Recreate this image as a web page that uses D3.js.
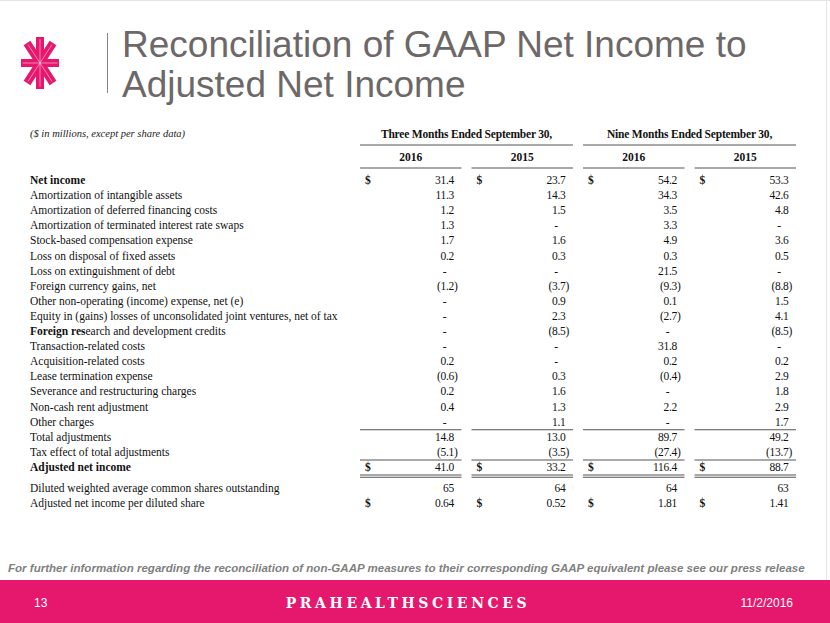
<!DOCTYPE html>
<html><head><meta charset="utf-8">
<script src="https://cdn.jsdelivr.net/npm/d3@7"></script>
<style>html,body{margin:0;padding:0;background:#fff;}svg{display:block;}</style>
</head><body>
<svg id="chart" width="830" height="623"></svg>
<script>
const titleLines = ["Reconciliation of GAAP Net Income to", "Adjusted Net Income"];
const unitNote = "($ in millions, except per share data)";
const groupHeaders = ["Three Months Ended September 30,", "Nine Months Ended September 30,"];
const columns = ["2016", "2015", "2016 ", "2015 "];
const yearLabels = ["2016", "2015", "2016", "2015"];
const labels = [
  "Net income",
  "Amortization of intangible assets",
  "Amortization of deferred financing costs",
  "Amortization of terminated interest rate swaps",
  "Stock-based compensation expense",
  "Loss on disposal of fixed assets",
  "Loss on extinguishment of debt",
  "Foreign currency gains, net",
  "Other non-operating (income) expense, net (e)",
  "Equity in (gains) losses of unconsolidated joint ventures, net of tax",
  "Foreign research and development credits",
  "Transaction-related costs",
  "Acquisition-related costs",
  "Lease termination expense",
  "Severance and restructuring charges",
  "Non-cash rent adjustment",
  "Other charges",
  "Total adjustments",
  "Tax effect of total adjustments",
  "Adjusted net income",
  "Diluted weighted average common shares outstanding",
  "Adjusted net income per diluted share"
];
const threeMonths2016 = [31.4, 11.3, 1.2, 1.3, 1.7, 0.2, null, -1.2, null, null, null, null, 0.2, -0.6, 0.2, 0.4, null, 14.8, -5.1, 41.0, 65, 0.64];
const threeMonths2015 = [23.7, 14.3, 1.5, null, 1.6, 0.3, null, -3.7, 0.9, 2.3, -8.5, null, null, 0.3, 1.6, 1.3, 1.1, 13.0, -3.5, 33.2, 64, 0.52];
const nineMonths2016 = [54.2, 34.3, 3.5, 3.3, 4.9, 0.3, 21.5, -9.3, 0.1, -2.7, null, 31.8, 0.2, -0.4, null, 2.2, null, 89.7, -27.4, 116.4, 64, 1.81];
const nineMonths2015 = [53.3, 42.6, 4.8, null, 3.6, 0.5, null, -8.8, 1.5, 4.1, -8.5, null, 0.2, 2.9, 1.8, 2.9, 1.7, 49.2, -13.7, 88.7, 63, 1.41];
const series = [threeMonths2016, threeMonths2015, nineMonths2016, nineMonths2015];
const dollarRows = [0, 19, 21];
const boldRows = [0, 19];
const footnote = "For further information regarding the reconciliation of non-GAAP measures to their corresponding GAAP equivalent please see our press release";
const pageNumber = "13";
const brand = "PRAHEALTHSCIENCES";
const dateText = "11/2/2016";

const svg = d3.select("#chart");
const pink = "#e5186e";
const serif = "'Liberation Serif','Times New Roman',serif";
const sans = "'Liberation Sans',Arial,sans-serif";

svg.append("rect").attr("x",0).attr("y",0).attr("width",830).attr("height",623).attr("fill","#fff");
svg.append("line").attr("x1",0).attr("x2",830).attr("y1",0.5).attr("y2",0.5).attr("stroke","#e6e6e6");
svg.append("line").attr("x1",826.5).attr("x2",826.5).attr("y1",0).attr("y2",580).attr("stroke","#e6e6e6");

// logo
const logo = svg.append("g").attr("transform","translate(40,63)");
const arms = [[0,26],[19,0],[13,-20],[-13,-20]];
arms.forEach(([dx,dy])=>{
  logo.append("line").attr("x1",-dx).attr("y1",-dy).attr("x2",dx).attr("y2",dy)
    .attr("stroke",pink).attr("stroke-width",8);
});
arms.forEach(([dx,dy])=>{
  logo.append("line").attr("x1",-dx*0.92).attr("y1",-dy*0.92).attr("x2",dx*0.92).attr("y2",dy*0.92)
    .attr("stroke","#fff").attr("stroke-opacity",0.6).attr("stroke-width",0.8);
});
svg.append("line").attr("x1",107.5).attr("x2",107.5).attr("y1",33).attr("y2",93).attr("stroke","#8a8585").attr("stroke-width",1);

// title
svg.selectAll("text.title").data(titleLines).join("text").attr("class","title")
  .attr("x",122).attr("y",(d,i)=>57+i*40)
  .attr("font-family",sans).attr("font-size",37).attr("fill","#6d6868").text(d=>d);

// table scales
const col = d3.scaleBand().domain(columns).range([360,796]).paddingInner(0.09);
const rowScale = d3.scaleLinear().domain([0,19]).range([180,467]);
const rowY = i => i<=19 ? rowScale(i) : 488 + (i-20)*15.2;
const lineColor = "#555";

svg.append("text").attr("x",30).attr("y",137).attr("font-family",serif).attr("font-style","italic")
  .attr("font-size",10.5).attr("fill","#222").text(unitNote);

groupHeaders.forEach((h,g)=>{
  const x0 = col(columns[g*2]), x1 = col(columns[g*2+1]) + col.bandwidth();
  svg.append("text").attr("x",(x0+x1)/2).attr("y",138).attr("text-anchor","middle")
    .attr("font-family",serif).attr("font-weight","bold").attr("font-size",11.5).attr("letter-spacing",-0.2).attr("fill","#111").text(h);
  svg.append("line").attr("x1",x0).attr("x2",x1).attr("y1",145).attr("y2",145).attr("stroke",lineColor).attr("stroke-width",1.2);
});
columns.forEach((c,j)=>{
  const x0 = col(c);
  svg.append("text").attr("x",x0+col.bandwidth()/2).attr("y",161).attr("text-anchor","middle")
    .attr("font-family",serif).attr("font-weight","bold").attr("font-size",11.5).attr("fill","#111").text(yearLabels[j]);
  svg.append("line").attr("x1",x0).attr("x2",x0+col.bandwidth()).attr("y1",168).attr("y2",168).attr("stroke",lineColor).attr("stroke-width",1.2);
  [ (rowY(16)+rowY(17))/2 + 0.5, (rowY(18)+rowY(19))/2 + 0.5, rowY(19)+8, rowY(19)+10.2 ].forEach(y=>{
    svg.append("line").attr("x1",x0).attr("x2",x0+col.bandwidth()).attr("y1",y).attr("y2",y).attr("stroke",lineColor).attr("stroke-width",1.1);
  });
});

const lab = svg.selectAll("text.lab").data(labels).join("text").attr("class","lab")
  .attr("x",30).attr("y",(d,i)=>rowY(i)+4)
  .attr("font-family",serif).attr("font-size",11.5).attr("fill","#111")
  .attr("font-weight",(d,i)=>boldRows.includes(i)?"bold":"normal");
lab.each(function(d,i){
  const t = d3.select(this);
  if(i===10){
    t.append("tspan").attr("font-weight","bold").text("Foreign res");
    t.append("tspan").text("earch and development credits");
  } else t.text(d);
});

function fmt(v,i){
  if(v===null) return "-";
  const dec = i===20 ? 0 : (i===21 ? 2 : 1);
  const s = Math.abs(v).toFixed(dec);
  return v<0 ? "("+s+")" : s;
}
series.forEach((vals,j)=>{
  const x0 = col(columns[j]), right = x0 + col.bandwidth() - 4;
  const g = svg.append("g").attr("font-family",serif).attr("font-size",11.5).attr("fill","#111");
  g.selectAll("text.v").data(vals).join("text").attr("class","v")
    .attr("x",(v)=> v===null ? right-13 : (v<0 ? right : right-3.5))
    .attr("y",(v,i)=>rowY(i)+4)
    .attr("text-anchor",v=> v===null ? "middle" : "end")
    .attr("letter-spacing",-0.3)
    .text((v,i)=>fmt(v,i));
  g.selectAll("text.d").data(dollarRows).join("text").attr("class","d")
    .attr("x",x0+5).attr("y",i=>rowY(i)+4).attr("font-weight","bold").text("$");
});

svg.append("text").attr("x",8).attr("y",572).attr("font-family",sans).attr("font-style","italic").attr("font-weight","bold")
  .attr("font-size",11.55).attr("fill","#7f7f7f").text(footnote);

svg.append("rect").attr("x",0).attr("y",580).attr("width",830).attr("height",43).attr("fill",pink);
svg.append("text").attr("x",34).attr("y",607).attr("font-family",sans).attr("font-size",12).attr("fill","#fff").text(pageNumber);
svg.append("text").attr("x",793).attr("y",607).attr("text-anchor","end").attr("font-family",sans).attr("font-size",12).attr("fill","#fff").text(dateText);
svg.append("text").attr("x",408).attr("y",608).attr("text-anchor","middle").attr("font-family","'DejaVu Serif',serif")
  .attr("font-weight","bold").attr("font-size",14).attr("letter-spacing",3.6).attr("fill","#fff").text(brand);
</script>
</body></html>
